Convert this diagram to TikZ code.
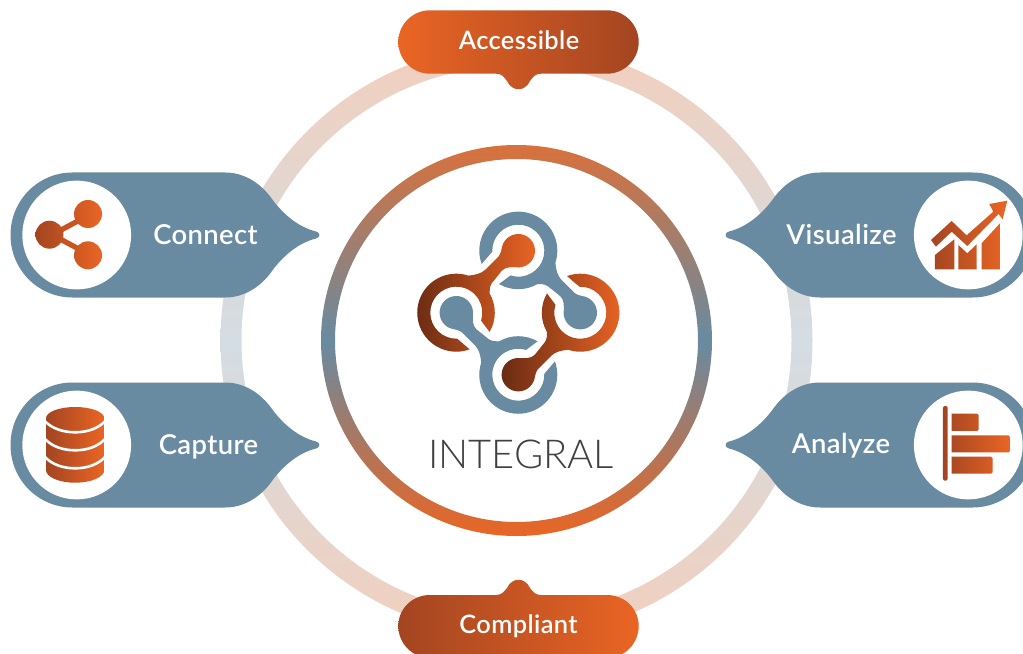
\documentclass[tikz,border=0pt]{standalone}
\usepackage{fontspec}
\usetikzlibrary{calc}
\setmainfont{Lato}
\newfontfamily\thinfont{Lato Light}
\newfontfamily\labelfont[LetterSpace=1.5]{Lato Semibold}
\definecolor{slate}{HTML}{688BA1}
\definecolor{orangeA}{HTML}{EA6524}
\definecolor{rustA}{HTML}{A34521}
\definecolor{darkB}{HTML}{682A13}
\definecolor{ringO}{HTML}{F2CFBD}
\definecolor{ringB}{HTML}{D3DDE3}
\definecolor{ringT}{HTML}{D8713C}
\tikzset{
  lbl/.style={text=white,font=\labelfont\fontsize{27.5}{27.5}\selectfont,inner sep=0pt,anchor=base},
  lblsmall/.style={lbl,font=\labelfont\fontsize{25.5}{25.5}\selectfont},
  pillfill/.style={fill=slate},
  icon/.style={left color=rustA,right color=orangeA},
}
\newcommand{\calloutpath}{
  (72.5,172.5) -- (225,172.5)
  .. controls (243,172.5) and (260,182) .. (272,199)
  .. controls (283,214) and (298,227) .. (316,231.5)
  .. controls (320.5,232.5) and (320.5,237.5) .. (316,238.5)
  .. controls (298,243) and (283,256) .. (272,271)
  .. controls (260,288) and (243,297.5) .. (225,297.5)
  -- (72.5,297.5)
  .. controls (38,297.5) and (10.5,269.5) .. (10.5,235)
  .. controls (10.5,200.5) and (38,172.5) .. (72.5,172.5) -- cycle
}
\newcommand{\logopiece}{
  ($(-62,0)+(-88:26)$) arc[start angle=-88,end angle=-377.6,radius=26]
  -- ($(-62,0)+(-30:38.5)$)
  arc[start angle=-30,end angle=30,radius=38.5]
  .. controls (-29,23) and (-28.5,26) .. (-26.6,29.4)
  -- (-16.5,42)
  .. controls (-13,46) and (-6,45.5) .. (-2.9,45.55)
  arc[start angle=-100,end angle=165,radius=16.7]
  .. controls (-17,62) and (-18,58) .. (-20,56)
  -- (-33,43)
  .. controls (-37,39) and (-44,37.5) .. (-50,37.1)
  arc[start angle=72,end angle=290,radius=39] -- cycle
}
\begin{document}
\begin{tikzpicture}[x=1bp,y=-1bp]
\useasboundingbox (0,0) rectangle (1023,654);
\clip (0,0) rectangle (1023,654);
\fill[white] (0,0) rectangle (1023,654);
% rings
\shade[even odd rule,top color=ringO,bottom color=ringO,middle color=ringB]
  (516.5,340.5) circle[radius=296] (516.5,340.5) circle[radius=275];
\shade[even odd rule,top color=ringT,bottom color=orangeA,middle color=slate]
  (516.5,340.5) circle[radius=195.5] (516.5,340.5) circle[radius=181.5];
% callouts
\fill[pillfill] \calloutpath;
\fill[pillfill,yshift=-210bp] \calloutpath;
\begin{scope}[xshift=1045bp,xscale=-1]
  \fill[pillfill] \calloutpath;
  \fill[pillfill,yshift=-210bp] \calloutpath;
\end{scope}
% white discs
\fill[white] (76.7,235) circle[radius=54.4] (76.7,445) circle[radius=54.4]
  (968.3,235) circle[radius=54.4] (968.3,445) circle[radius=54.4];
% share icon
\fill[rustA!50!orangeA] (60,227.5) -- (78,218) -- (80.5,222.5) -- (62,232.5) -- cycle
  (60,242) -- (62,237) -- (80.5,247) -- (78,251.5) -- cycle;
\shade[icon] (49.5,234.7) circle[radius=14] (88,214) circle[radius=14] (88,255.3) circle[radius=14];
% database icon
\shade[icon] (46,418.3) .. controls (46,412) and (59,407) .. (75.2,407)
  .. controls (91.3,407) and (104.3,412) .. (104.3,418.3) -- (104.3,470)
  .. controls (104.3,477) and (91.3,482.7) .. (75.2,482.7)
  .. controls (59,482.7) and (46,477) .. (46,470) -- cycle;
\draw[white,line width=2.6bp] (45,421.3) .. controls (52,428.5) and (63,432.3) .. (75.2,432.3) .. controls (87.3,432.3) and (98,428.5) .. (105,421.3);
\draw[white,line width=2.6bp] (45,439) .. controls (52,446.5) and (63,450.3) .. (75.2,450.3) .. controls (87.3,450.3) and (98,446.5) .. (105,439);
\draw[white,line width=2.6bp] (45,457) .. controls (52,464.5) and (63,468.3) .. (75.2,468.3) .. controls (87.3,468.3) and (98,464.5) .. (105,457);
% chart icon
\begin{scope}[shift={(710,160)},x=0.3333bp,y=-0.3333bp]
\shade[icon]
  (675,328) -- (675,285) -- (733,238) -- (733,328) -- cycle
  (745,328) -- (745,255) -- (772,280) -- (800,253) -- (800,328) -- cycle
  (815,328) -- (815,250) -- (870,190) -- (870,328) -- cycle
  (663,240) -- (725,183) -- (770,226) -- (850,155) -- (838,132) -- (892,122) -- (878,178) -- (866,162) -- (772,258) -- (725,215) -- (678,260) -- cycle;
\end{scope}
% bars icon
\begin{scope}[shift={(710,370)},x=0.3333bp,y=-0.3333bp]
\shade[icon]
  [rounded corners=2bp] (699,108) rectangle (713,332)
  [sharp corners] (725,131) [rounded corners=1.5bp] -- (806,131) -- (806,183) [sharp corners] -- (725,183) -- cycle
  (725,196) [rounded corners=1.5bp] -- (900,196) -- (900,247) [sharp corners] -- (725,247) -- cycle
  (725,260) [rounded corners=1.5bp] -- (848,260) -- (848,311) [sharp corners] -- (725,311) -- cycle;
\end{scope}
% top pill
\shade[left color=orangeA,right color=rustA]
  (430,10.3) -- (607,10.3) .. controls (624.5,10.3) and (638.7,24.5) .. (638.7,42)
  .. controls (638.7,59.5) and (624.5,73.7) .. (607,73.7) -- (541,73.7)
  .. controls (535,73.7) and (533,77) .. (530,81)
  .. controls (525,92) and (512,92) .. (507,81)
  .. controls (504,77) and (502,73.7) .. (496,73.7) -- (430,73.7)
  .. controls (412.5,73.7) and (398.3,59.5) .. (398.3,42)
  .. controls (398.3,24.5) and (412.5,10.3) .. (430,10.3) -- cycle;
% bottom pill
\shade[left color=rustA,right color=orangeA]
  (430,658) -- (607,658) .. controls (624.5,658) and (638.7,643.5) .. (638.7,626)
  .. controls (638.7,608.5) and (624.5,595) .. (607,595) -- (541,595)
  .. controls (535,595) and (533,591.5) .. (530,588)
  .. controls (525,577) and (512,577) .. (507,588)
  .. controls (504,591.5) and (502,595) .. (496,595) -- (430,595)
  .. controls (412.5,595) and (398.3,608.5) .. (398.3,626)
  .. controls (398.3,643.5) and (412.5,658) .. (430,658) -- cycle;
% logo
\begin{scope}[shift={(518.3,312.7)},x=1bp,y=1bp]
  \shade[left color=darkB,right color=orangeA] \logopiece;
  \begin{scope}[rotate=-90]\fill[slate] \logopiece;\end{scope}
  \begin{scope}[rotate=180]\shade[left color=darkB,right color=orangeA] \logopiece;\end{scope}
  \begin{scope}[rotate=90]\fill[slate] \logopiece;\end{scope}
\end{scope}
% labels
\node[lbl] (connect) at (205.5,244.5) {Connect};
\node[lbl] (capture) at (208.5,454.5) {Capture};
\node[lbl] (visualize) at (841.5,244.5) {Visualize};
\node[lbl] (analyze) at (841,453.5) {Analyze};
\node[lblsmall] (accessible) at (519,49.5) {Accessible};
\node[lblsmall] (compliant) at (518.5,633.5) {Compliant};
\node[inner sep=0pt,anchor=base,text=black!75,font=\thinfont\fontsize{40}{40}\selectfont] (integral) at (521,468) {INTEGRAL};
\end{tikzpicture}
\end{document}
